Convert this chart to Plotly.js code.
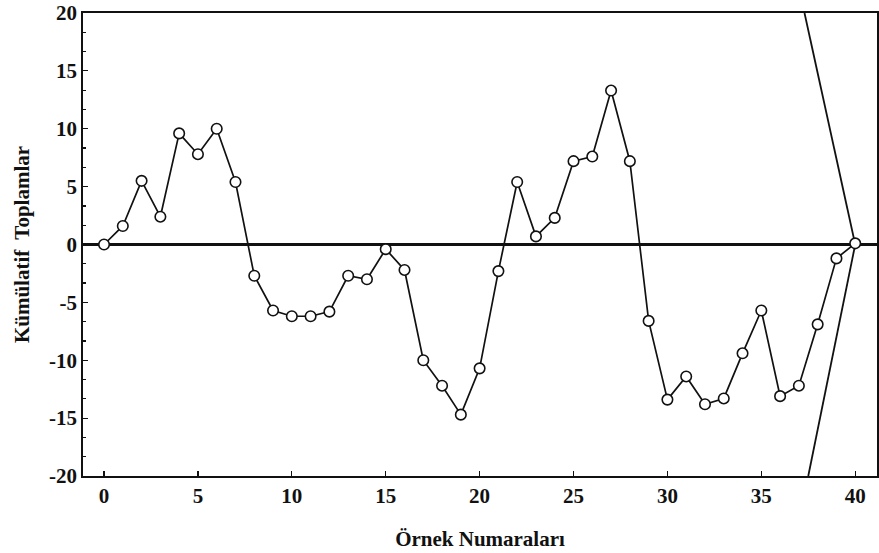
<!DOCTYPE html>
<html>
<head>
<meta charset="utf-8">
<script src="https://cdn.plot.ly/plotly-3.0.1.min.js"></script>
<style>html,body{margin:0;padding:0;background:#fff;}#chart{width:879px;height:553px;}</style>
</head>
<body>
<div id="chart"></div>
<script>
var sampleNumbers = [];
for (var i = 0; i <= 40; i++) sampleNumbers.push(i);
var cusumValues = [0, 1.6, 5.5, 2.4, 9.6, 7.8, 10.0, 5.4, -2.7, -5.7,
  -6.2, -6.2, -5.8, -2.7, -3.0, -0.4, -2.2, -10.0, -12.2, -14.7,
  -10.7, -2.3, 5.4, 0.7, 2.3, 7.2, 7.6, 13.3, 7.2, -6.6,
  -13.4, -11.4, -13.8, -13.3, -9.4, -5.7, -13.1, -12.2, -6.9, -1.2, 0.1];
var vMaskUpperX = [40, 37.3];
var vMaskUpperY = [0, 20];
var vMaskLowerX = [40, 37.5];
var vMaskLowerY = [0, -20];
var xTickVals = [0, 5, 10, 15, 20, 25, 30, 35, 40];
var yTickVals = [-20, -15, -10, -5, 0, 5, 10, 15, 20];

var fontFam = '"Liberation Serif", "Times New Roman", serif';

var traces = [
  {x: vMaskUpperX, y: vMaskUpperY, mode: 'lines', line: {color: '#111', width: 1.8}, hoverinfo: 'skip', showlegend: false},
  {x: vMaskLowerX, y: vMaskLowerY, mode: 'lines', line: {color: '#111', width: 1.8}, hoverinfo: 'skip', showlegend: false},
  {x: sampleNumbers, y: cusumValues, mode: 'lines+markers',
   line: {color: '#111', width: 1.7},
   marker: {symbol: 'circle', size: 10.5, color: '#fff', line: {color: '#111', width: 1.6}},
   showlegend: false, cliponaxis: false}
];

var layout = {
  width: 879, height: 553,
  margin: {l: 83, r: 2, t: 13, b: 77},
  paper_bgcolor: '#fff', plot_bgcolor: '#fff',
  font: {family: fontFam, color: '#111', size: 21, weight: 700},
  showlegend: false,
  xaxis: {
    range: [-1.12, 41.16],
    tickvals: xTickVals, ticktext: xTickVals.map(String),
    ticks: 'inside', ticklen: 5, tickwidth: 1.2, tickcolor: '#111',
    showgrid: false, zeroline: false,
    showline: true, linecolor: '#111', linewidth: 1.8, mirror: true,
    tickfont: {family: fontFam, size: 21, weight: 700, color: '#111'},
    title: {text: 'Örnek Numaraları', font: {family: fontFam, size: 21, weight: 700, color: '#111'}, standoff: 24}
  },
  yaxis: {
    range: [-20, 20],
    tickvals: yTickVals, ticktext: yTickVals.map(String),
    ticks: 'inside', ticklen: 5, tickwidth: 1.2, tickcolor: '#111',
    minor: {dtick: 5/3, ticks: 'inside', ticklen: 3, tickcolor: '#111', showgrid: false},
    showgrid: false,
    zeroline: true, zerolinecolor: '#111', zerolinewidth: 3,
    showline: true, linecolor: '#111', linewidth: 1.8, mirror: true,
    tickfont: {family: fontFam, size: 21, weight: 700, color: '#111'},
    title: {text: 'Kümülatif  Toplamlar', font: {family: fontFam, size: 21, weight: 700, color: '#111'}, standoff: 14}
  }
};

Plotly.newPlot('chart', traces, layout, {staticPlot: true, displayModeBar: false});
</script>
</body>
</html>
